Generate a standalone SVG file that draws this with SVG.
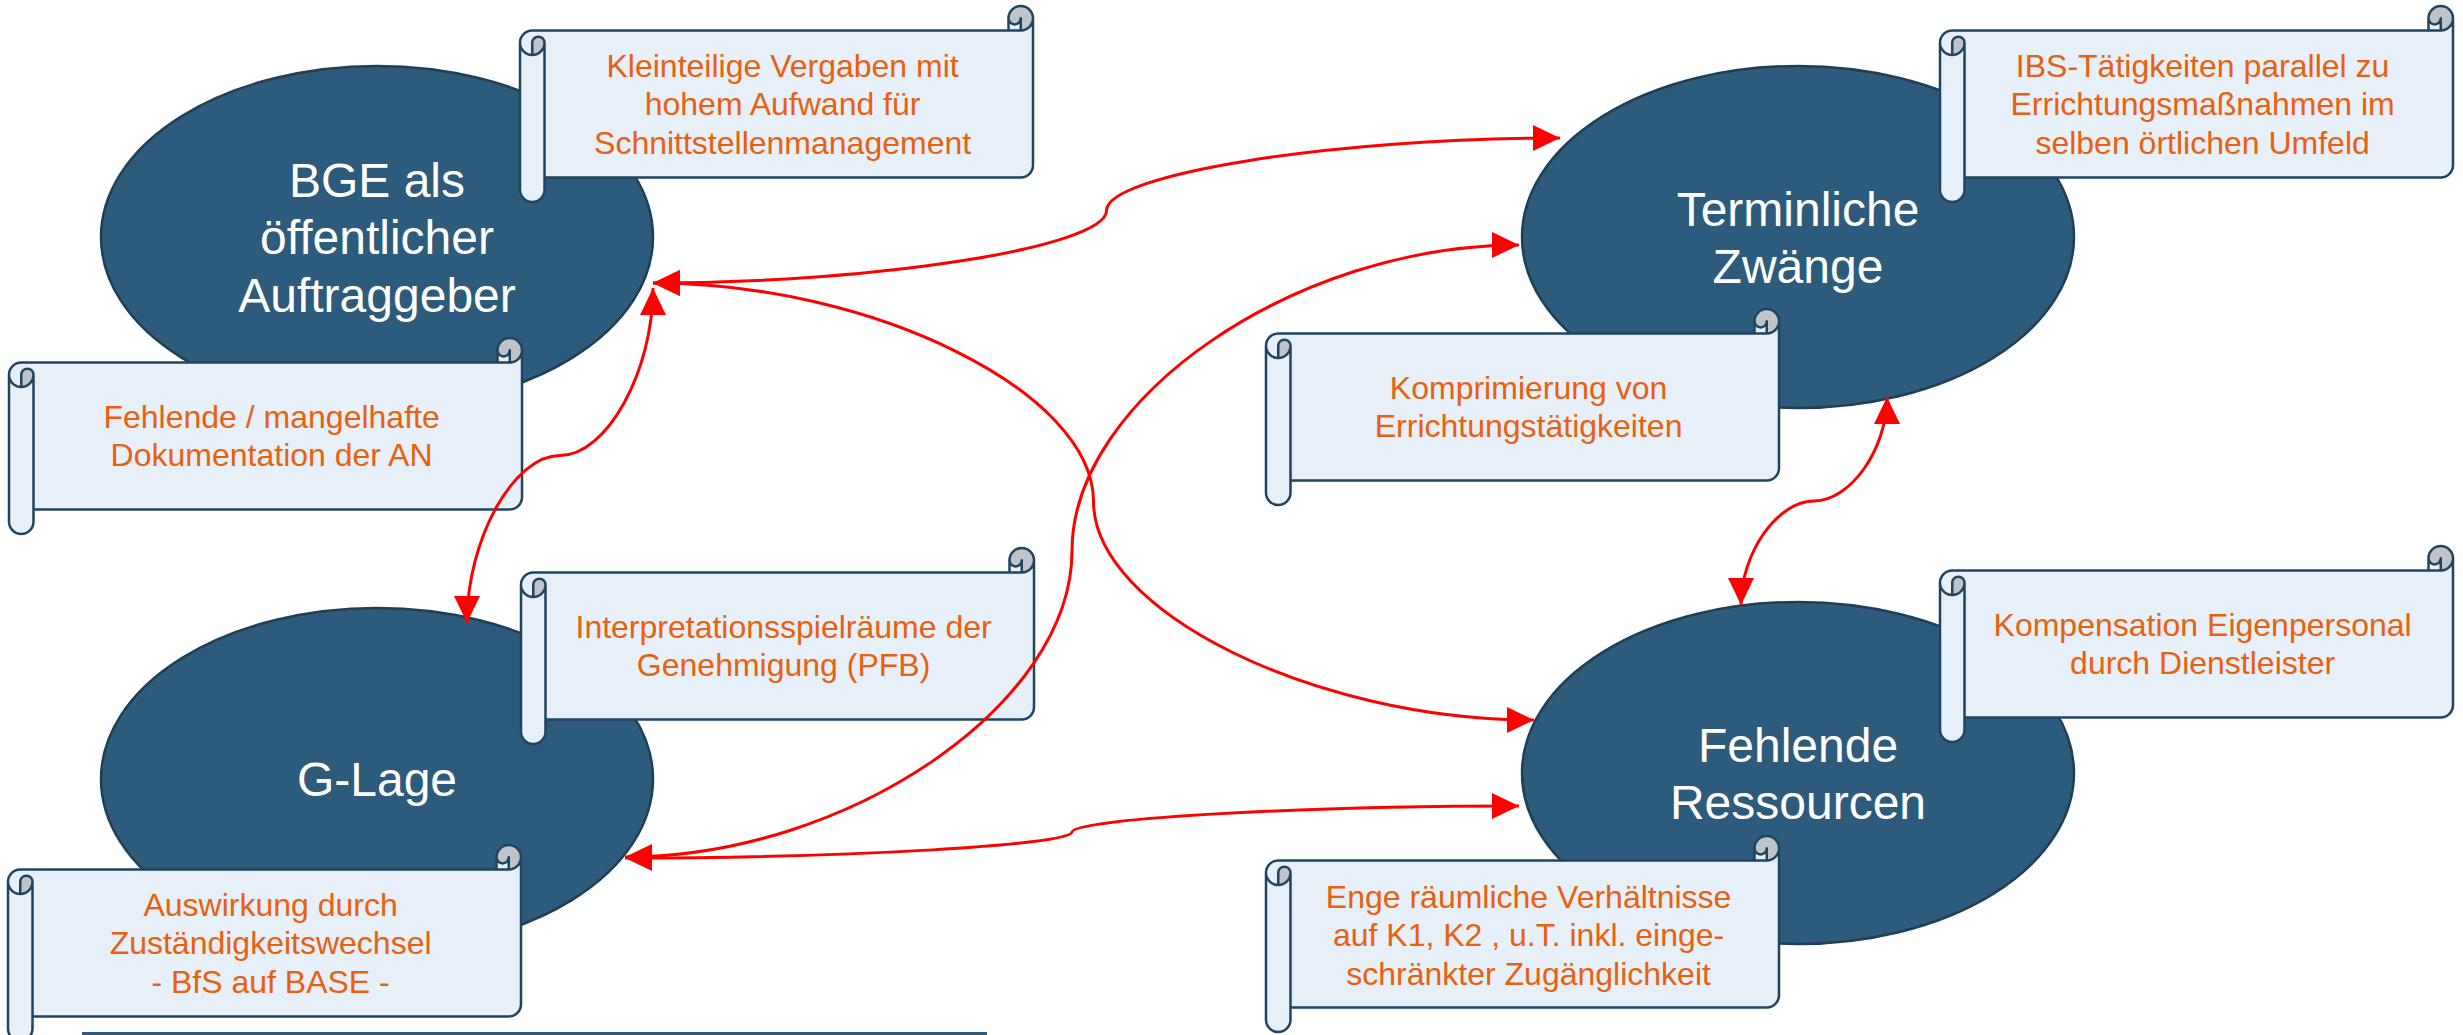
<svg xmlns="http://www.w3.org/2000/svg" xmlns:xlink="http://www.w3.org/1999/xlink" width="2463" height="1035" viewBox="0 0 2463 1035">
<style>
.ell{fill:#2C5B7B;stroke:#1F3F57;stroke-width:2.5}
.nt{font-family:"Liberation Sans",Arial,sans-serif;font-size:48px;fill:#FFFFFF;text-anchor:middle}
.st{font-family:"Liberation Sans",Arial,sans-serif;font-size:32px;fill:#E9600E;text-anchor:middle}
.sbody{fill:#E7EFF8;stroke:none}
.scurl{fill:#BEC4CA;stroke:none}
.sline{fill:none;stroke:#1F4560;stroke-width:2.5;stroke-linejoin:round}
.con{fill:none;stroke:#FF0000;stroke-width:3;marker-start:url(#ah);marker-end:url(#ah)}
</style>
<defs>
<marker id="ah" markerUnits="userSpaceOnUse" markerWidth="28" markerHeight="28" viewBox="0 0 28 28" refX="27" refY="14" orient="auto-start-reverse">
<path d="M0,1 L27,14 L0,27 z" fill="#FF0000"/>
</marker>
<g id="scroll">
<path class="sbody" d="M513,12.25 A12.25,12.25 0 0 1 500.75,24.5 L500.75,12.25 A6.125,6.125 0 0 1 488.5,12.25 L488.5,24.5 L12.25,24.5 A12.25,12.25 0 0 0 0,36.75 L0,183.75 A12.25,12.25 0 0 0 24.5,183.75 L24.5,171.5 L500.75,171.5 A12.25,12.25 0 0 0 513,159.25 Z"/>
<path class="scurl" d="M12.25,49 A12.25,12.25 0 0 0 24.5,36.75 A6.125,6.125 0 0 0 12.25,36.75 Z M500.75,24.5 A12.25,12.25 0 1 0 488.5,12.25 A6.125,6.125 0 0 0 500.75,12.25 Z"/>
<path class="sline" d="M0,36.75 A12.25,12.25 0 0 1 12.25,24.5 L488.5,24.5 L488.5,12.25 A12.25,12.25 0 0 1 513,12.25 L513,159.25 A12.25,12.25 0 0 1 500.75,171.5 L24.5,171.5 L24.5,183.75 A12.25,12.25 0 0 1 0,183.75 Z M488.5,24.5 L500.75,24.5 A12.25,12.25 0 0 0 513,12.25 M500.75,24.5 L500.75,12.25 A6.125,6.125 0 0 1 488.5,12.25 M12.25,49 L12.25,36.75 A6.125,6.125 0 0 1 24.5,36.75 A12.25,12.25 0 0 1 0,36.75 M24.5,36.75 L24.5,171.5"/>
</g>
</defs>
<rect x="0" y="0" width="2463" height="1035" fill="#FFFFFF"/>

<g id="node-bge">
<ellipse class="ell" cx="377" cy="237" rx="276" ry="171"/>
<text class="nt" x="377" y="196.5">BGE als</text>
<text class="nt" x="377" y="254">öffentlicher</text>
<text class="nt" x="377" y="311.5">Auftraggeber</text>
</g>
<g id="node-glage">
<ellipse class="ell" cx="377" cy="779" rx="276" ry="171"/>
<text class="nt" x="377" y="796">G-Lage</text>
</g>
<g id="node-termin">
<ellipse class="ell" cx="1798" cy="237" rx="276" ry="171"/>
<text class="nt" x="1798" y="225.5">Terminliche</text>
<text class="nt" x="1798" y="283">Zwänge</text>
</g>
<g id="node-ressourcen">
<ellipse class="ell" cx="1798" cy="773" rx="276" ry="171"/>
<text class="nt" x="1798" y="761.5">Fehlende</text>
<text class="nt" x="1798" y="819">Ressourcen</text>
</g>

<g id="scroll-kleinteilig">
<use xlink:href="#scroll" href="#scroll" x="520" y="6"/>
<text class="st" x="782.6" y="76.5">Kleinteilige Vergaben mit</text>
<text class="st" x="782.6" y="115">hohem Aufwand für</text>
<text class="st" x="782.6" y="153.5">Schnittstellenmanagement</text>
</g>
<g id="scroll-dokumentation">
<use xlink:href="#scroll" href="#scroll" x="9" y="338"/>
<text class="st" x="271.6" y="427.75">Fehlende / mangelhafte</text>
<text class="st" x="271.6" y="466.25">Dokumentation der AN</text>
</g>
<g id="scroll-interpretation">
<use xlink:href="#scroll" href="#scroll" x="521" y="548"/>
<text class="st" x="783.6" y="637.75">Interpretationsspielräume der</text>
<text class="st" x="783.6" y="676.25">Genehmigung (PFB)</text>
</g>
<g id="scroll-zustaendigkeit">
<use xlink:href="#scroll" href="#scroll" x="8" y="845"/>
<text class="st" x="270.6" y="915.5">Auswirkung durch</text>
<text class="st" x="270.6" y="954">Zuständigkeitswechsel</text>
<text class="st" x="270.6" y="992.5">- BfS auf BASE -</text>
</g>
<g id="scroll-ibs">
<use xlink:href="#scroll" href="#scroll" x="1940" y="6"/>
<text class="st" x="2202.6" y="76.5">IBS-Tätigkeiten parallel zu</text>
<text class="st" x="2202.6" y="115">Errichtungsmaßnahmen im</text>
<text class="st" x="2202.6" y="153.5">selben örtlichen Umfeld</text>
</g>
<g id="scroll-komprimierung">
<use xlink:href="#scroll" href="#scroll" x="1266" y="309"/>
<text class="st" x="1528.6" y="398.75">Komprimierung von</text>
<text class="st" x="1528.6" y="437.25">Errichtungstätigkeiten</text>
</g>
<g id="scroll-kompensation">
<use xlink:href="#scroll" href="#scroll" x="1940" y="546"/>
<text class="st" x="2202.6" y="635.75">Kompensation Eigenpersonal</text>
<text class="st" x="2202.6" y="674.25">durch Dienstleister</text>
</g>
<g id="scroll-enge">
<use xlink:href="#scroll" href="#scroll" x="1266" y="836"/>
<text class="st" x="1528.6" y="907.5">Enge räumliche Verhältnisse</text>
<text class="st" x="1528.6" y="946">auf K1, K2 , u.T. inkl. einge-</text>
<text class="st" x="1528.6" y="984.5">schränkter Zugänglichkeit</text>
</g>

<rect id="bottom-bar" x="82" y="1032" width="905" height="3" fill="#2C5B7B"/>

<g id="connectors">
<path class="con" d="M653,283 C879.75,283 1106.5,246.75 1106.5,210.5 C1106.5,174.25 1333.25,138 1560,138"/>
<path class="con" d="M653,283 C873.25,283 1093.5,392.25 1093.5,501.5 C1093.5,610.75 1313.75,720 1534,720"/>
<path class="con" d="M653,288 C653,371.75 606.5,455.5 560,455.5 C513.5,455.5 467,539.25 467,623"/>
<path class="con" d="M625,857 C848.5,857 1072,704 1072,551 C1072,398 1295.5,245 1519,245"/>
<path class="con" d="M625,858 C848.5,858 1072,845 1072,832 C1072,819 1295.5,806 1519,806"/>
<path class="con" d="M1887,397 C1887,449 1850.5,501 1814,501 C1777.5,501 1741,553 1741,605"/>
</g>
</svg>
